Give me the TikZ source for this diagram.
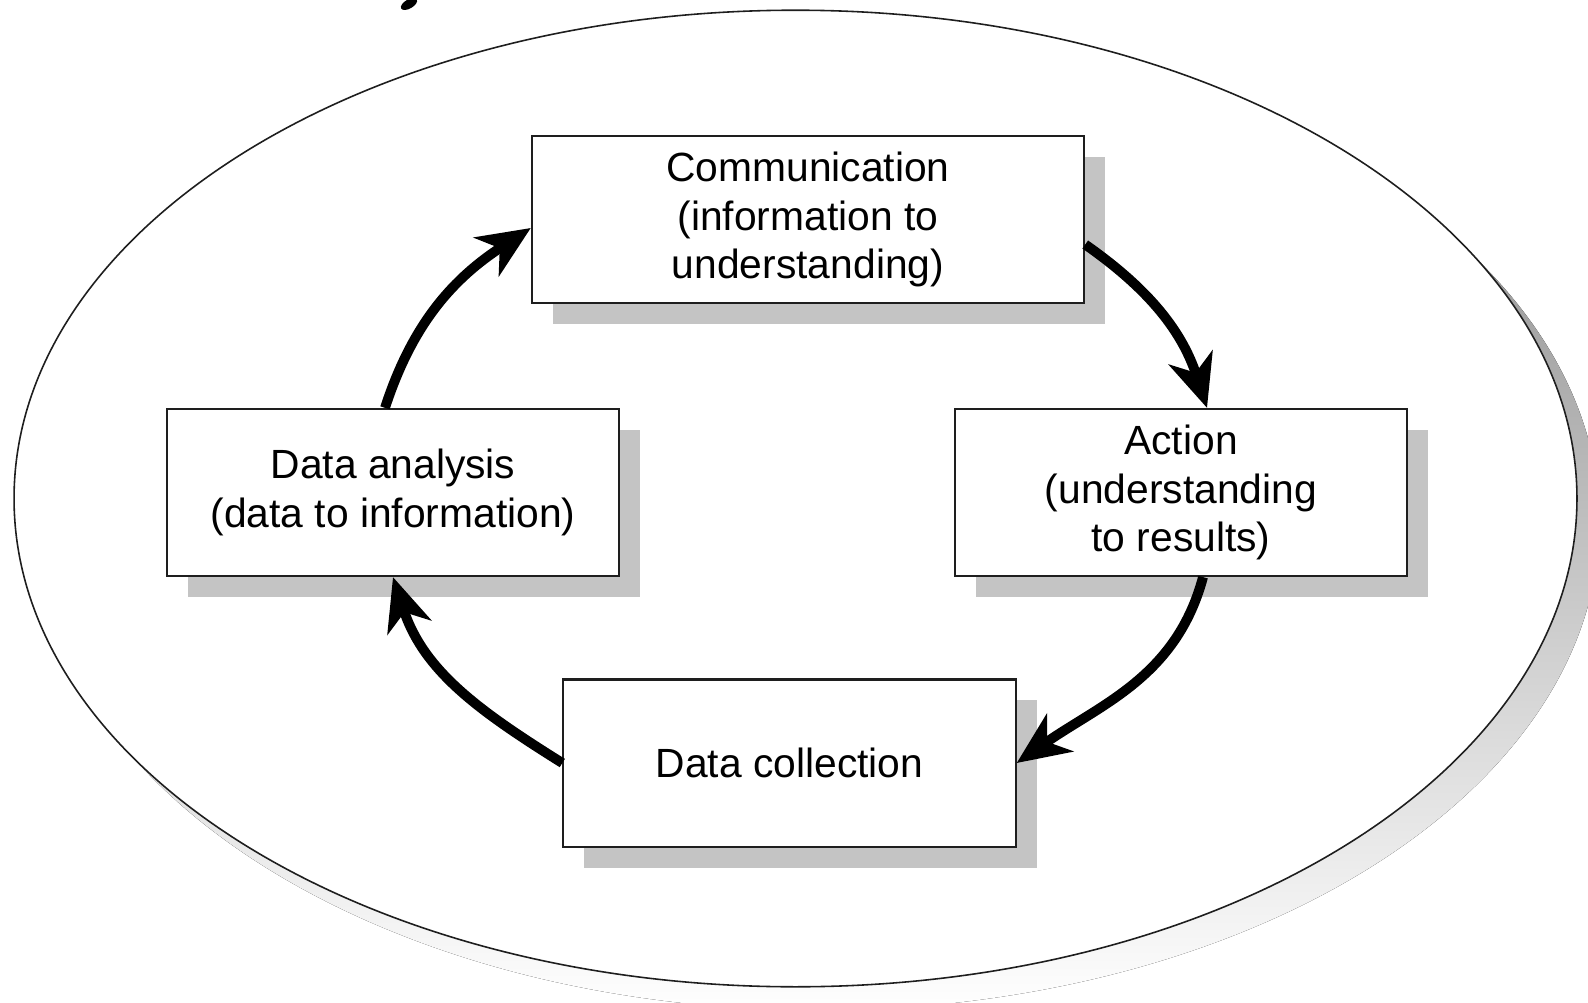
\documentclass[tikz,border=0pt]{standalone}
\usepackage{fontspec}
\setmainfont{Liberation Sans}
\usetikzlibrary{arrows.meta,shadows}
\definecolor{shade}{RGB}{196,196,196}
\definecolor{edge}{RGB}{30,30,30}
\begin{document}
\begin{tikzpicture}[x=0.01cm,y=0.01cm,
  box/.style={draw=edge, line width=0.6pt, fill=white, minimum width=4.52cm,
    minimum height=1.67cm, align=center, inner sep=0pt,
    font=\fontsize{11.6}{13.8}\selectfont,
    drop shadow={shadow xshift=0.21cm, shadow yshift=-0.21cm, fill=shade, opacity=1}},
  flow/.style={line width=2.8pt,
    -{Stealth[length=15pt,width=13pt,inset=4.5pt]}}]
\useasboundingbox (0,0) rectangle (1588,1002);
\fill[white] (0,0) rectangle (1588,1002);
% outer ellipse with its shadow
\fill[shade] (818,480) ellipse [x radius=7.81cm, y radius=4.88cm];
\filldraw[fill=white, draw=edge, line width=0.45pt] (795.5,503.5) ellipse [x radius=7.81cm, y radius=4.88cm];
% fragment of cut-off title
\fill[rotate around={30:(409,998)}] (409,998) ellipse [x radius=0.09cm, y radius=0.045cm];
% boxes
\node[box, minimum width=5.52cm] (comm) at (808,782.5) {Communication\\(information to\\understanding)};
\node[box] (anal) at (393,509.5) {Data analysis\\(data to information)};
\node[box] (act) at (1181,509.5) {Action\\(understanding\\to results)};
\node[box] (coll) at (789.5,239) {Data collection};
% cycle arrows
\draw[flow] ([xshift=-0.08cm]anal.north) to[out=72,in=213] ([yshift=-0.085cm]comm.west);
\draw[flow] ([yshift=-0.25cm]comm.east) to[out=-35,in=108] ([xshift=0.26cm]act.north);
\draw[flow] ([xshift=0.22cm]act.south) to[out=-105,in=35] (coll.east);
\draw[flow] (coll.west) to[out=148,in=-72] (anal.south);
\end{tikzpicture}
\end{document}
